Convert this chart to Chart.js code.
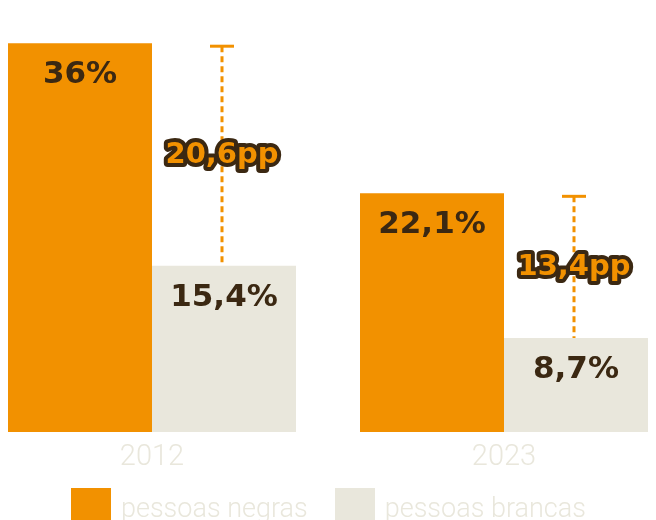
<!DOCTYPE html>
<html>
<head>
<meta charset="utf-8">
<script src="https://cdn.jsdelivr.net/npm/chart.js@4.4.1/dist/chart.umd.min.js"></script>
<style>
  html, body { margin: 0; padding: 0; background: #fff; }
  #wrap { position: relative; width: 656px; height: 520px; overflow: hidden; }
  #wrap canvas { position: absolute; left: -24px; top: 0; }
  #legenda { position: absolute; left: 71px; top: 488px; display: flex; align-items: center;
             font-family: Roboto, sans-serif; font-weight: 300; font-size: 27px; color: #E9E7DC; }
  #legenda span.box { display: inline-block; width: 40px; height: 40px; margin-right: 10px; }
  #legenda span.item { display: flex; align-items: center; margin-right: 27px; }
</style>
</head>
<body>
<div id="wrap">
  <canvas id="grafico" width="704" height="520"></canvas>
  <div id="legenda"></div>
</div>
<script>
const anos = ['2012', '2023'];
const pessoasNegras = [36, 22.1];
const pessoasBrancas = [15.4, 8.7];
const nomesSeries = ['pessoas negras', 'pessoas brancas'];
const cores = ['#F29100', '#E9E7DC'];

const corTexto = '#3B2812';

const virgula = (v) => String(v).replace('.', ',');

// rotulos dentro das barras + linha tracejada com a diferenca em pp
const rotulosPlugin = {
    id: 'rotulos',
    afterDatasetsDraw(chart) {
        const ctx = chart.ctx;
        const metaN = chart.getDatasetMeta(0);
        const metaB = chart.getDatasetMeta(1);

        ctx.save();
        ctx.textAlign = 'center';
        ctx.textBaseline = 'middle';
        ctx.font = 'bold 31px "DejaVu Sans", sans-serif';
        ctx.fillStyle = corTexto;
        [metaN, metaB].forEach((meta, d) => {
            meta.data.forEach((bar, i) => {
                const v = chart.data.datasets[d].data[i];
                ctx.fillText(virgula(v) + '%', bar.x, bar.y + 32);
            });
        });

        for (let i = 0; i < anos.length; i++) {
            const x = metaB.data[i].x - 2;
            const yTopo = metaN.data[i].y + 3;
            const yBase = metaB.data[i].y;

            ctx.strokeStyle = cores[0];
            ctx.lineWidth = 3;
            ctx.setLineDash([6, 4]);
            ctx.beginPath();
            ctx.moveTo(x, yTopo);
            ctx.lineTo(x, yBase);
            ctx.stroke();

            ctx.setLineDash([]);
            ctx.beginPath();
            ctx.moveTo(x - 12, yTopo);
            ctx.lineTo(x + 12, yTopo);
            ctx.stroke();

            const dif = (pessoasNegras[i] - pessoasBrancas[i]).toFixed(1);
            const txt = virgula(dif) + 'pp';
            const yMeio = (yTopo + yBase) / 2;
            ctx.font = 'bold 29px "DejaVu Sans", sans-serif';
            ctx.lineJoin = 'round';
            ctx.lineWidth = 8;
            ctx.strokeStyle = corTexto;
            ctx.strokeText(txt, x, yMeio);
            ctx.fillStyle = cores[0];
            ctx.fillText(txt, x, yMeio);
        }
        ctx.restore();
    }
};

const ctx = document.getElementById('grafico').getContext('2d');
new Chart(ctx, {
    type: 'bar',
    data: {
        labels: anos,
        datasets: [
            { label: nomesSeries[0], data: pessoasNegras, backgroundColor: cores[0] },
            { label: nomesSeries[1], data: pessoasBrancas, backgroundColor: cores[1] }
        ]
    },
    options: {
        responsive: false,
        animation: false,
        layout: { padding: 0 },
        datasets: { bar: { categoryPercentage: 288 / 352, barPercentage: 1 } },
        plugins: { legend: { display: false }, tooltip: { enabled: false } },
        scales: {
            x: {
                grid: { display: false },
                border: { display: false },
                ticks: { color: '#E9E7DC', padding: 0, font: { family: 'Roboto', weight: 300, size: 29 } },
                afterFit(scale) { scale.height = 88; }
            },
            y: { display: false, min: 0, max: 40 }
        }
    },
    plugins: [rotulosPlugin]
});

const legenda = document.getElementById('legenda');
nomesSeries.forEach((nome, i) => {
    legenda.innerHTML += `<span class="item"><span class="box" style="background:${cores[i]}"></span>${nome}</span>`;
});
</script>
</body>
</html>
